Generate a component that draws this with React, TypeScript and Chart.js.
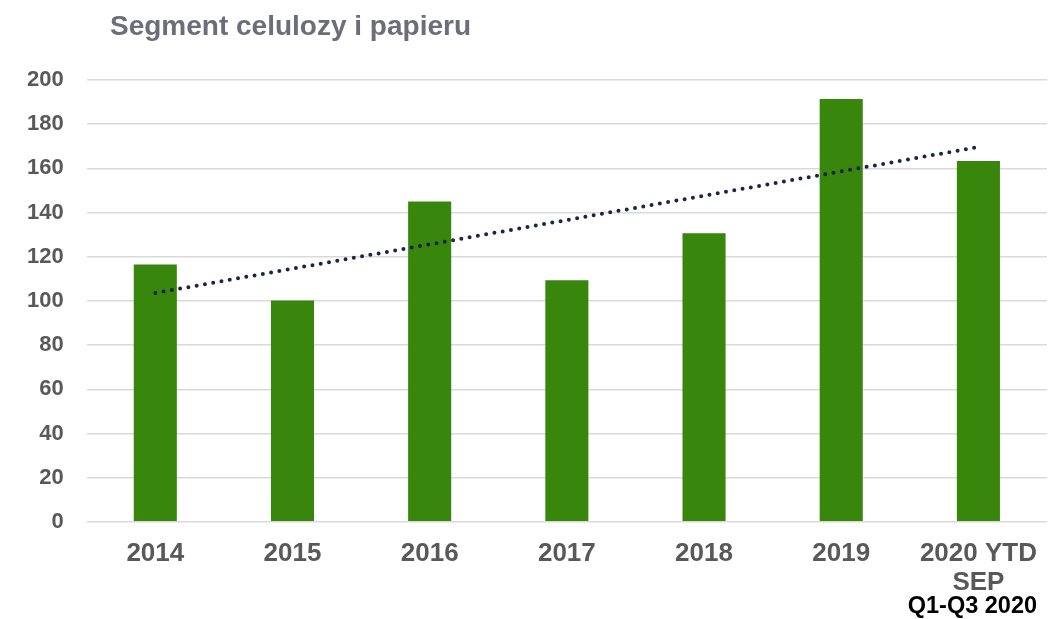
import React, { useEffect, useRef } from "react";
import { Chart, registerables } from "chart.js";

Chart.register(...registerables);

const TITLE = "Segment celulozy i papieru";
const categories: (string | string[])[] = ["2014", "2015", "2016", "2017", "2018", "2019", ["2020 YTD", "SEP"]];
const subLabel = "Q1-Q3 2020";
const values = [116.5, 100.2, 145, 109.3, 130.6, 191.4, 163.3];
const yTicks = { min: 0, max: 200, step: 20 };

// linear trend line (least squares) from the series values
function linearTrend(v: number[]): number[] {
  const n = v.length;
  const mx = (n - 1) / 2;
  const my = v.reduce((a, b) => a + b, 0) / n;
  let num = 0;
  let den = 0;
  v.forEach((y, i) => {
    num += (i - mx) * (y - my);
    den += (i - mx) * (i - mx);
  });
  const slope = num / den;
  return v.map((_, i) => my + slope * (i - mx));
}
const trend = linearTrend(values);

const FONT = "'Liberation Sans', Arial, sans-serif";

const extraText = {
  id: "extraText",
  afterDraw(chart: any) {
    const ctx = chart.ctx;
    ctx.save();
    ctx.fillStyle = "#6d6d79";
    ctx.font = `bold 28px ${FONT}`;
    ctx.textAlign = "left";
    ctx.textBaseline = "middle";
    ctx.fillText(TITLE, 110, 27);
    const x = chart.scales.x.getPixelForValue(6);
    ctx.fillStyle = "#000000";
    ctx.font = `bold 23.5px ${FONT}`;
    ctx.textAlign = "center";
    ctx.fillText(subLabel, x - 6, 607);
    ctx.restore();
  },
};

export default function App() {
  const ref = useRef<HTMLCanvasElement>(null);
  useEffect(() => {
    if (!ref.current) return;
    const chart = new Chart(ref.current, {
      type: "bar",
      data: {
        labels: categories,
        datasets: [
          {
            type: "bar",
            data: values,
            backgroundColor: "#38860b",
            categoryPercentage: 1,
            barPercentage: 0.314,
            order: 2,
          },
          {
            type: "line",
            data: trend,
            borderColor: "#1a2446",
            borderWidth: 4,
            borderDash: [0, 8.4],
            borderCapStyle: "round",
            pointRadius: 0,
            fill: false,
            order: 1,
          } as any,
        ],
      },
      options: {
        animation: false,
        responsive: true,
        maintainAspectRatio: false,
        layout: { padding: { top: 80, left: 4, right: 13, bottom: 4 } },
        plugins: {
          legend: { display: false },
          tooltip: { enabled: false },
          title: { display: false },
        },
        scales: {
          x: {
            grid: { display: false, drawTicks: false },
            border: { display: false },
            ticks: {
              color: "#595959",
              font: { family: FONT, size: 26, weight: "bold", lineHeight: 1.1 },
              padding: 18,
              maxRotation: 0,
              autoSkip: false,
            },
          },
          y: {
            min: yTicks.min,
            max: yTicks.max,
            grid: { color: "#d9d9d9", lineWidth: 1.5, drawTicks: false },
            border: { display: false },
            ticks: {
              stepSize: yTicks.step,
              color: "#595959",
              font: { family: FONT, size: 22, weight: "bold" },
              padding: 23,
            },
          },
        },
      },
      plugins: [extraText],
    });
    return () => chart.destroy();
  }, []);
  return (
    <div style={{ position: "absolute", left: 0, top: 0, width: 1060, height: 619, background: "#fff" }}>
      <canvas ref={ref} />
    </div>
  );
}
